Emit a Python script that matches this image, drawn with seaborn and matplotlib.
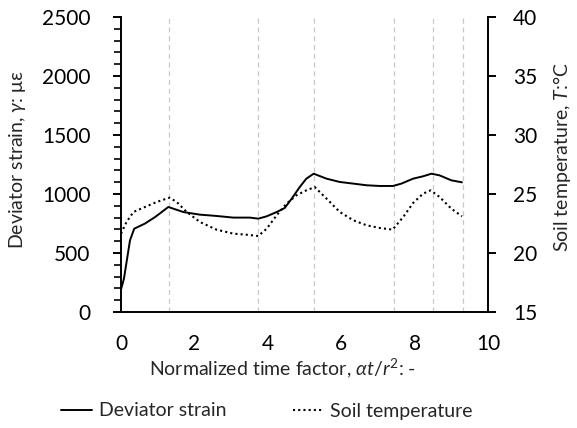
import matplotlib
matplotlib.use("Agg")
import matplotlib.pyplot as plt
import seaborn as sns
import pandas as pd
import numpy as np

# Deviator strain (με)
strain_x = [0, 0.08, 0.245, 0.36, 0.65, 0.93, 1.29, 1.70, 2.15, 2.60, 3.06, 3.51, 3.74, 3.97, 4.24,
            4.46, 4.65, 4.87, 5.05, 5.25, 5.60, 5.96, 6.33, 6.69, 7.05, 7.41, 7.64, 7.96, 8.23,
            8.46, 8.68, 9.0, 9.29]
strain_y = [190, 282, 607, 706, 749, 805, 890, 847, 825, 814, 800, 800, 791, 811, 847,
            881, 960, 1059, 1130, 1172, 1130, 1102, 1088, 1074, 1068, 1068, 1088, 1130, 1150,
            1172, 1158, 1116, 1099]

# Soil temperature (°C)
temp_x = [0, 0.15, 0.34, 0.61, 0.97, 1.32, 1.52, 1.79, 2.15, 2.60, 3.06, 3.42, 3.74, 3.97, 4.24,
          4.51, 4.78, 5.05, 5.28, 5.60, 5.96, 6.33, 6.69, 7.05, 7.40, 7.69, 7.96, 8.23, 8.44,
          8.68, 9.0, 9.29]
temp_y = [21.64, 22.63, 23.48, 23.84, 24.32, 24.69, 24.32, 23.48, 22.63, 21.98, 21.64, 21.55, 21.44,
          22.06, 23.19, 24.18, 24.89, 25.31, 25.59, 24.61, 23.48, 22.77, 22.35, 22.12, 21.98,
          23.05, 24.24, 25.03, 25.31, 24.75, 23.76, 23.11]

# Phase boundaries (dashed lines)
phase_x = [1.32, 3.72, 5.26, 7.43, 8.49, 9.31]

sns.set_style("white")
plt.rcParams['font.family'] = ['Lato', 'DejaVu Sans']
plt.rcParams['mathtext.fontset'] = 'custom'
plt.rcParams['mathtext.rm'] = 'Lato'
plt.rcParams['mathtext.it'] = 'Lato:italic'

W, H = 577, 428
fig = plt.figure(figsize=(W / 100, H / 100), dpi=100)
ax = fig.add_axes([121 / W, 1 - 312 / H, (488 - 121) / W, (312 - 17) / H])
ax2 = ax.twinx()

for px in phase_x:
    ax.axvline(px, color='#c8c8c8', lw=0.9, ls=(0, (4, 3)), zorder=0)

df_s = pd.DataFrame({'x': strain_x, 'y': strain_y})
df_t = pd.DataFrame({'x': temp_x, 'y': temp_y})
sns.lineplot(data=df_s, x='x', y='y', ax=ax, color='black', lw=1.4, label='Deviator strain', legend=False)
sns.lineplot(data=df_t, x='x', y='y', ax=ax2, color='black', lw=1.5, ls=(0, (1, 1.5)),
             label='Soil temperature', legend=False)

ax.set_xlim(0, 10)
ax.set_ylim(0, 2500)
ax2.set_ylim(15, 40)
ax.set_xticks([0, 2, 4, 6, 8, 10])
ax.set_xticks(np.arange(0, 11, 1), minor=True)
ax.set_yticks(np.arange(0, 2501, 500))
ax.set_yticks(np.arange(0, 2501, 100), minor=True)
ax2.set_yticks(np.arange(15, 41, 5))
ax.set_xlabel('')
ax.set_ylabel('')
ax2.set_ylabel('')

for a in (ax, ax2):
    a.spines['top'].set_visible(False)
    for s in a.spines.values():
        s.set_linewidth(1.4)
        s.set_color('black')
ax.spines['right'].set_visible(False)
ax2.spines['left'].set_visible(False)
ax2.spines['bottom'].set_visible(False)

tfs = 15
ax.tick_params(axis='y', which='major', direction='out', length=6, width=1.4, labelsize=tfs, colors='black', pad=16)
ax.tick_params(axis='y', which='minor', direction='out', length=5, width=1.4)
ax.tick_params(axis='x', which='major', direction='out', length=6, width=1.4, labelsize=tfs, colors='black', pad=10)
ax.tick_params(axis='x', which='minor', direction='out', length=4, width=1.4)
ax2.tick_params(axis='y', which='major', direction='out', length=6, width=1.4, labelsize=tfs, colors='black', pad=12)

lfs = 14
fig.text(283 / W, 1 - 368 / H, r'Normalized time factor, $\mathit{\alpha t/r}^2$: -', fontsize=lfs,
         ha='center', va='center')
fig.text(18 / W, 1 - 160 / H, r'Deviator strain, $\mathit{\gamma}$: με', fontsize=lfs,
         ha='center', va='center', rotation=90)
fig.text(562 / W, 1 - 157 / H, r'Soil temperature, $\mathit{T}$:°C', fontsize=lfs,
         ha='center', va='center', rotation=90)

h1, l1 = ax.get_legend_handles_labels()
h2, l2 = ax2.get_legend_handles_labels()
fig.legend(h1 + h2, l1 + l2, loc='center', bbox_to_anchor=(267 / W, 1 - 411 / H), ncol=2,
           frameon=False, fontsize=14, handlelength=1.6, handletextpad=0.35, columnspacing=3.4)

fig.savefig('out.png', dpi=100)
